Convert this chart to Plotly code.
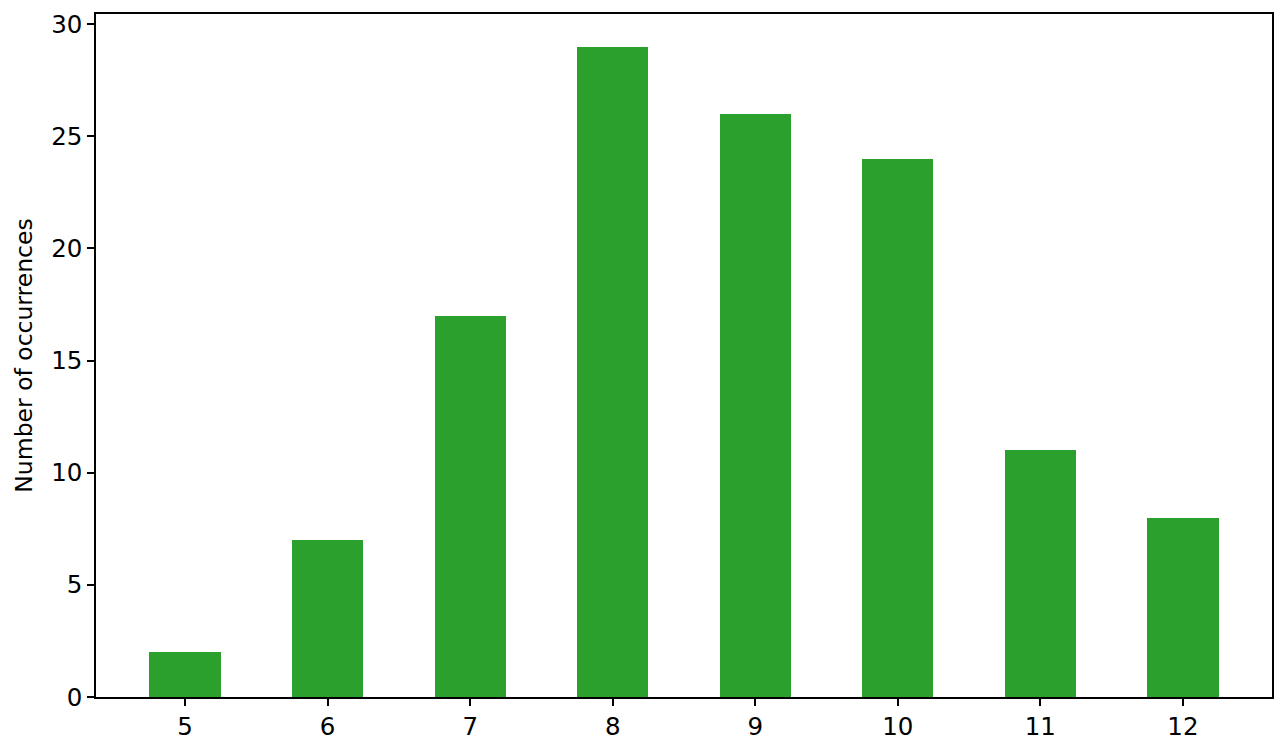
import plotly.graph_objs as go

values = [5, 6, 7, 8, 9, 10, 11, 12]
counts = [2, 7, 17, 29, 26, 24, 11, 8]

fig = go.Figure()
fig.add_trace(go.Bar(
    x=values,
    y=counts,
    width=0.5,
    marker_color='#2ca02c',
    marker_line_width=0,
))

axis_style = dict(
    showline=True, linecolor='black', linewidth=1.5, mirror=True,
    ticks='outside', ticklen=7, tickwidth=1.5, tickcolor='black',
    showgrid=False, zeroline=False, ticklabeloverflow='allow',
    tickfont=dict(family='DejaVu Sans', size=24.5, color='black'),
)

# page body has an 8px margin, so the figure is shifted by 8px
fig.update_layout(
    width=1275, height=738,
    margin=dict(l=88, r=11, t=2, b=49),
    plot_bgcolor='white', paper_bgcolor='white',
    showlegend=False,
    bargap=0,
    xaxis=dict(range=[4.375, 12.625], tickvals=values, **axis_style),
    yaxis=dict(range=[0, 30.45], tickvals=[0, 5, 10, 15, 20, 25, 30],
               title=dict(text='Number of occurrences', standoff=12,
                          font=dict(family='DejaVu Sans', size=23.5, color='black')),
               **axis_style),
)

fig.write_html("out.html")
